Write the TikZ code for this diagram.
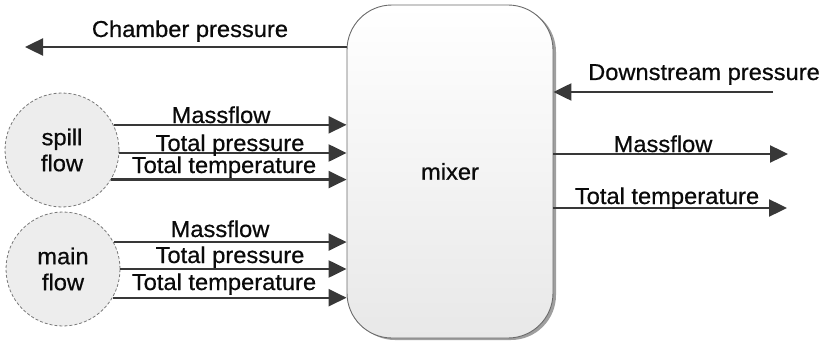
\documentclass[tikz,border=0pt]{standalone}
\usepackage{fontspec}
\setmainfont[FakeBold=0.6,FakeStretch=1.03]{Liberation Sans}
\usetikzlibrary{arrows.meta,shadows}
\definecolor{arrowgray}{HTML}{383838}
\definecolor{circfill}{HTML}{EDEDED}
\definecolor{circdraw}{HTML}{7A7A7A}
\definecolor{boxdraw}{HTML}{6A6A6A}
\definecolor{txt}{HTML}{0A0A0A}
\begin{document}
\begin{tikzpicture}[x=1pt,y=-1pt,
  lbl/.style={font=\fontsize{23}{26}\selectfont, text=txt, inner sep=0pt, anchor=base},
  flowarrow/.style={draw=arrowgray, line width=2.4pt, -{Triangle[length=18pt,width=17pt]}},
  src/.style={circle, minimum size=114pt, inner sep=0pt, fill=circfill, draw=circdraw,
    dash pattern=on 3pt off 2pt, line width=0.8pt, align=center, text=txt,
    font=\fontsize{23}{26}\selectfont},
  mixbox/.style={rectangle, rounded corners=45pt, minimum width=206pt, minimum height=333pt,
    draw=boxdraw, line width=0.9pt, top color=white, bottom color=gray!18, text=txt,
    font=\fontsize{23}{26}\selectfont,
    drop shadow={shadow xshift=3pt, shadow yshift=-2pt, fill=gray!75, opacity=1}}
]
\useasboundingbox (0,0) rectangle (825,345);

% nodes
\node[mixbox] (mixer) at (450,171.5) {mixer};
\node[src] (spill) at (62,150) {spill\\flow};
\node[src] (main) at (63,269) {main\\flow};

% free ends
\coordinate (chamend) at (25,47);
\coordinate (dsstart) at (773,92);
\coordinate (mfout) at (788,154);
\coordinate (ttout) at (787,208);

% spill flow arrows
\draw[flowarrow] (spill.26) -- (spill.26 -| mixer.west);
\draw[flowarrow] (spill.-3) -- (spill.-3 -| mixer.west);
\draw[flowarrow] (spill.-31) -- (spill.-31 -| mixer.west);
% main flow arrows
\draw[flowarrow] (main.28) -- (main.28 -| mixer.west);
\draw[flowarrow] (main.0) -- (main.0 -| mixer.west);
\draw[flowarrow] (main.-30) -- (main.-30 -| mixer.west);

% chamber pressure
\draw[flowarrow] (chamend -| mixer.west) -- (chamend);
% right side
\draw[flowarrow] (dsstart) -- (dsstart -| mixer.east);
\draw[flowarrow] (mfout -| mixer.east) -- (mfout);
\draw[flowarrow] (ttout -| mixer.east) -- (ttout);

% labels
\node[lbl] (lcham) at (190,37) {Chamber pressure};
\node[lbl] (ls1) at (221,123) {Massflow};
\node[lbl] (ls2) at (230,151) {Total pressure};
\node[lbl] (ls3) at (224,173) {Total temperature};
\node[lbl] (lm1) at (220,237) {Massflow};
\node[lbl] (lm2) at (230,263) {Total pressure};
\node[lbl] (lm3) at (224,290) {Total temperature};
\node[lbl] (lds) at (704,80) {Downstream pressure};
\node[lbl] (lmf) at (663,152) {Massflow};
\node[lbl] (ltt) at (667,204) {Total temperature};
\end{tikzpicture}
\end{document}
